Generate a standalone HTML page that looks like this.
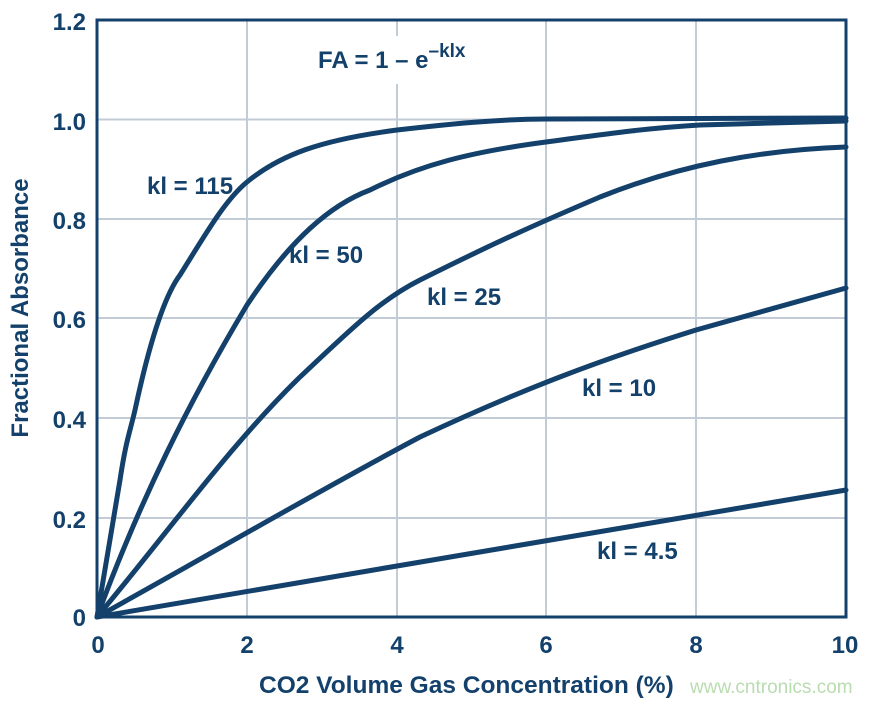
<!DOCTYPE html>
<html><head><style>
body{margin:0;background:#fff;}
svg text{font-family:"Liberation Sans",sans-serif;font-weight:bold;fill:#13416b;}
</style></head><body>
<svg width="878" height="700" viewBox="0 0 878 700" xmlns="http://www.w3.org/2000/svg">
<g stroke="#c2ccd6" stroke-width="2">
<line x1="247" y1="20" x2="247" y2="617"/><line x1="397" y1="20" x2="397" y2="617"/>
<line x1="546" y1="20" x2="546" y2="617"/><line x1="696" y1="20" x2="696" y2="617"/>
<line x1="97" y1="119.5" x2="846" y2="119.5"/><line x1="97" y1="219" x2="846" y2="219"/>
<line x1="97" y1="318" x2="846" y2="318"/><line x1="97" y1="418" x2="846" y2="418"/>
<line x1="97" y1="518" x2="846" y2="518"/>
</g>
<rect x="302" y="36" width="185" height="48" fill="#fff"/>
<rect x="97" y="20" width="749" height="597" fill="none" stroke="#13416b" stroke-width="3"/>
<g fill="none" stroke="#13416b" stroke-width="5" stroke-linejoin="round" stroke-linecap="round">
<path d="M97,617 L120,480 C126,440 130,432 135,410 C150,340 165,295 180,275 C205,235 225,200 247,182 C280,155 320,140 397,130 C450,124 500,119 546,119 L846,118"/>
<path d="M97,617 C140,500 190,400 247,305 C290,240 330,205 370,190 C420,165 470,152 546,142 C620,132 650,128 700,125 L846,121"/>
<path d="M97,617 C170,530 230,445 300,377 C350,330 380,300 420,280 C500,240 546,220 600,197 C680,165 760,150 846,147"/>
<path d="M97,617 C200,560 320,490 420,437 C520,390 600,360 696,330 L846,288"/>
<path d="M97,617 L397,566 L846,490"/>
</g>
<g font-size="24" text-anchor="end">
<text x="86" y="30">1.2</text><text x="86" y="130">1.0</text><text x="86" y="229">0.8</text>
<text x="86" y="328">0.6</text><text x="86" y="428">0.4</text><text x="86" y="528">0.2</text>
<text x="86" y="626">0</text>
</g>
<g font-size="24" text-anchor="middle">
<text x="98" y="653">0</text><text x="247" y="653">2</text><text x="397" y="653">4</text>
<text x="546" y="653">6</text><text x="696" y="653">8</text><text x="845" y="653">10</text>
</g>
<text x="259" y="693" font-size="24.5">CO2 Volume Gas Concentration (%)</text>
<text x="690" y="693" font-size="19" style="font-weight:normal;fill:#b9dcb0">www.cntronics.com</text>
<text transform="translate(28,308) rotate(-90)" text-anchor="middle" font-size="24">Fractional Absorbance</text>
<text x="318" y="68" font-size="24">FA = 1 – e<tspan font-size="19" dy="-11">–klx</tspan></text>
<g font-size="24">
<text x="147" y="194">kl = 115</text><text x="289" y="263">kl = 50</text>
<text x="427" y="305">kl = 25</text><text x="582" y="396">kl = 10</text>
<text x="597" y="559">kl = 4.5</text>
</g>
</svg>
</body></html>
